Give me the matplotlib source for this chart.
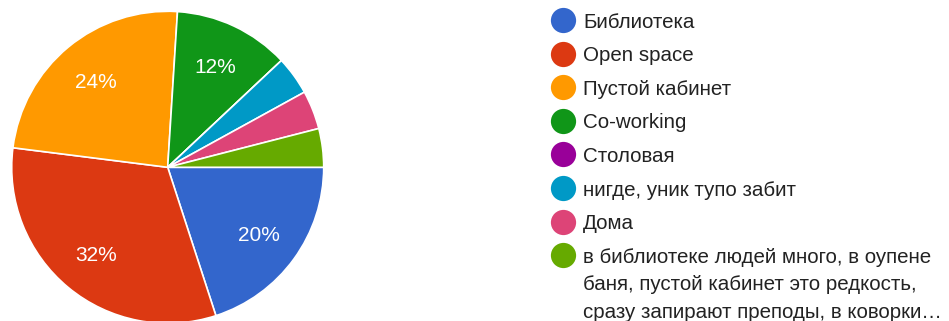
import matplotlib.pyplot as plt

labels = ['Библиотека', 'Open space', 'Пустой кабинет', 'Co-working',
          'Столовая', 'нигде, уник тупо забит', 'Дома',
          'в библиотеке людей много, в оупене\nбаня, пустой кабинет это редкость,\n'
          'сразу запирают преподы, в коворки…']
shares = [20, 32, 24, 12, 0, 4, 4, 4]
colors = ['#3366cc', '#dc3912', '#ff9900', '#109618',
          '#990099', '#0099c6', '#dd4477', '#66aa00']

plt.rcParams['font.family'] = ['Liberation Sans', 'DejaVu Sans']

W, H = 949, 321
fig = plt.figure(figsize=(W / 100, H / 100), dpi=100)

# pie, placed in pixel units
cx, cy, r = 167.7, 167.3, 156
ax = fig.add_axes([(cx - r) / W, (H - cy - r) / H, 2 * r / W, 2 * r / H])
wedges, texts, autotexts = ax.pie(
    shares, colors=colors, startangle=0, counterclock=False,
    autopct=lambda p: f'{p:.0f}%' if p >= 5 else '',
    pctdistance=0.72,
    wedgeprops=dict(edgecolor='white', linewidth=1.2),
    textprops=dict(color='white', fontsize=15))
for t in autotexts:
    t.set_va('center_baseline')
ax.set_xlim(-1, 1)
ax.set_ylim(-1, 1)

# legend, drawn by hand so the marker sits on the first line
lax = fig.add_axes([0, 0, 1, 1])
lax.set_xlim(0, W)
lax.set_ylim(H, 0)
lax.axis('off')
y0, step, line_h = 20, 33.6, 27.6
for i, (lab, col) in enumerate(zip(labels, colors)):
    y = y0 + i * step
    lax.scatter([563], [y], s=330, color=col, linewidths=0)
    for j, part in enumerate(lab.split('\n')):
        lax.text(583, y + 7.6 + j * line_h, part, fontsize=14.8,
                 color='#222222', va='baseline', ha='left')

fig.savefig('out.png', dpi=100)
